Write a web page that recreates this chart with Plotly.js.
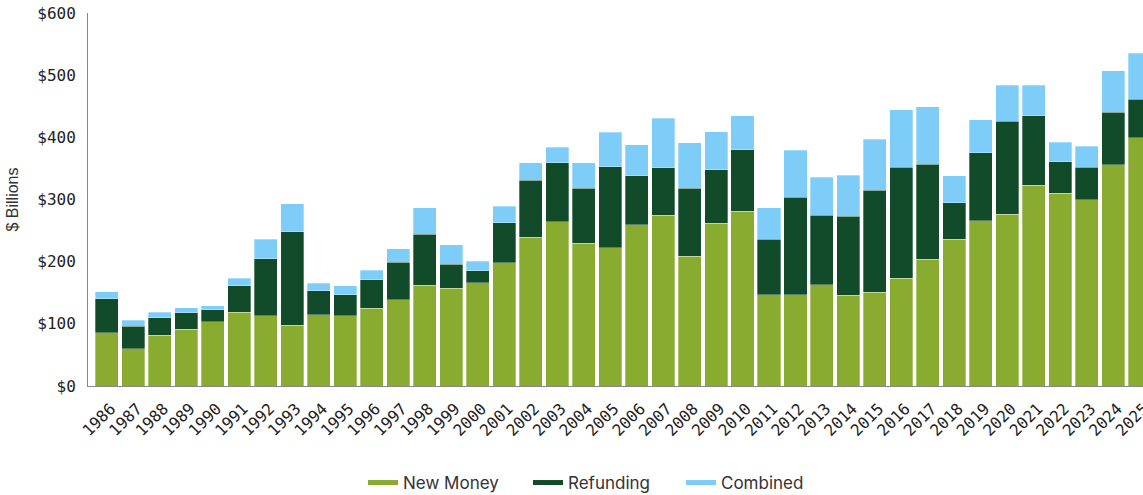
<!DOCTYPE html>
<html>
<head>
<meta charset="utf-8">
<script src="https://cdn.plot.ly/plotly-3.0.1.min.js"></script>
<style>html,body{margin:0;padding:0;background:#fff;}#chart{width:1143px;height:495px;}</style>
</head>
<body>
<div id="chart"></div>
<script>
const years = ["1986","1987","1988","1989","1990","1991","1992","1993","1994","1995","1996","1997","1998","1999","2000","2001","2002","2003","2004","2005","2006","2007","2008","2009","2010","2011","2012","2013","2014","2015","2016","2017","2018","2019","2020","2021","2022","2023","2024","2025"];
const newMoney = [86,60,82,91,103,119,113,98,115,113,125,139,162,157,166,198,239,264,230,222,259,275,209,262,281,147,147,163,146,151,173,204,236,266,276,323,310,300,356,399];
const refunding = [54,36,28,27,20,42,92,150,38,34,46,60,82,39,19,65,92,95,88,131,79,76,109,86,99,89,157,112,127,164,179,153,59,109,150,112,51,52,84,62];
const combined = [12,10,9,8,6,12,31,45,12,14,15,22,43,31,16,26,28,25,41,55,50,80,73,61,55,51,75,61,66,82,92,92,43,53,58,49,31,34,67,74];
const seriesNames = ["New Money","Refunding","Combined"];
const seriesColors = ["#89ab2f","#124b29","#7dcdf8"];
const seriesValues = [newMoney, refunding, combined];
const legendIds = ["legend","legend2","legend3"];

const traces = [];
seriesValues.forEach((vals, i) => {
  traces.push({
    type: "bar", x: years, y: vals, name: seriesNames[i],
    marker: {color: seriesColors[i], line: {color: "rgba(255,255,255,0.6)", width: 0.5}},
    showlegend: false, hoverinfo: "x+y+name"
  });
});
seriesValues.forEach((vals, i) => {
  traces.push({
    type: "scatter", mode: "lines", x: [null], y: [null], name: seriesNames[i],
    line: {color: seriesColors[i], width: 5}, showlegend: true, hoverinfo: "skip",
    legend: legendIds[i]
  });
});

const legFont = {family: "Inter, Noto Sans, sans-serif", size: 17, color: "#333"};
function leg(px) {
  return {orientation: "h", x: (px - 88) / 1055, xanchor: "left", y: -0.26, yanchor: "middle",
          font: legFont, itemwidth: 30, bgcolor: "rgba(0,0,0,0)"};
}

const layout = {
  width: 1143, height: 495,
  margin: {l: 88, r: 0, t: 13, b: 109, autoexpand: false},
  barmode: "stack", bargap: 0.13,
  paper_bgcolor: "#fff", plot_bgcolor: "#fff",
  xaxis: {
    type: "category", range: [-0.71, 39.12], tickangle: -45, automargin: false,
    showgrid: false, zeroline: false, showline: true, linecolor: "#888", linewidth: 1,
    ticks: "", ticklabelstandoff: 6, ticklabelshift: 4,
    tickfont: {family: "DejaVu Sans Mono, monospace", size: 16, color: "#222"}
  },
  yaxis: {
    range: [0, 600], dtick: 100, tickprefix: "$", showgrid: false, zeroline: false, automargin: false,
    showline: true, linecolor: "#888", linewidth: 1, ticks: "", ticklabelstandoff: 8,
    tickfont: {family: "DejaVu Sans Mono, monospace", size: 16, color: "#222"},
    title: {text: "$ Billions", font: {family: "Liberation Sans, Arial, sans-serif", size: 16, color: "#333"}, standoff: 14}
  },
  showlegend: true,
  legend: leg(363),
  legend2: leg(528),
  legend3: leg(681)
};
Plotly.newPlot("chart", traces, layout, {displayModeBar: false, staticPlot: true});
</script>
</body>
</html>
